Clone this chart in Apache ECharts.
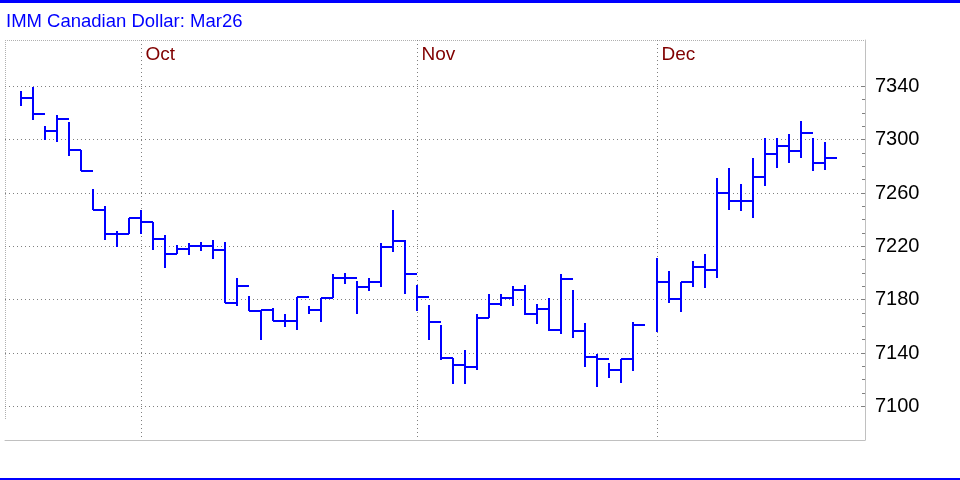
<!DOCTYPE html>
<html><head><meta charset="utf-8">
<script src="https://cdn.jsdelivr.net/npm/echarts@6/dist/echarts.min.js"></script>
<style>html,body{margin:0;padding:0;background:#fff}#c{width:960px;height:480px}</style>
</head><body><div id="c"></div>
<script>
const chartTitle = 'IMM Canadian Dollar: Mar26';
// one slot per trading day; null = no bar (holiday slot)
const highs = [7336.5,7339.5,7310,7318.5,7313.5,7292.5,7263,7250,7231.5,7241.5,
  7247.5,7238.5,7228.5,7221,7222.5,7223.5,7225,7223.5,7196.5,7183,
  7172.5,7174,7169.5,7182,7175,7181,7199.5,7200,7194,7196,
  7222.5,7247,7225,7191,7176,7161,7136.5,7142,7169,7184.5,
  7184.5,7190,7191,7177,7181.5,7199,7187,7162.5,7139.5,7132.5,
  7135.5,7163,null,7211,7201.5,7193.5,7209,7214.5,7271.5,7279,
  7267,7286.5,7301,7301,7304,7314,7301,7298];
const lows = [7325.5,7315,7299.5,7298.5,7288,7276.5,7247,7225,7219.5,7229,
  7229.5,7217,7204,7214,7213.5,7216.5,7210.5,7177.5,7175,7171.5,
  7150,7164,7159.5,7157.5,7169.5,7163,7181,7192,7169.5,7186.5,
  7189.5,7216,7184.5,7171.5,7149.5,7135,7117,7117,7127.5,7166.5,
  7175,7175,7168.5,7162,7156.5,7154,7151.5,7129.5,7114.5,7121,
  7117.5,7126.5,null,7156,7177.5,7171,7189.5,7189,7196,7247.5,
  7246.5,7241.5,7265.5,7279,7282.5,7286,7276.5,7277];
const closes = [7331.5,7319.5,7306.5,7315.5,7292.5,7276.5,7247.5,7229,7229.5,7241.5,
  7238.5,7225.5,7214.5,7218,7220,7220.5,7217,7177.5,7190,7171.5,
  7172.5,7164,7164,7182,7172.5,7181,7196.5,7196.5,7189.5,7193.5,
  7219.5,7224,7199.5,7182,7163.5,7136,7131,7129.5,7166.5,7176.5,
  7181.5,7187,7169.5,7173,7157,7195.5,7156.5,7137,7135.5,7127.5,
  7135.5,7161,null,7193.5,7180.5,7193.5,7204.5,7202,7260,7254,
  7254,7272,7289.5,7295.5,7291.5,7305,7282.5,7286.5];
const monthLabels = ['Oct','Nov','Dec'];
const monthStarts = [10,33,53];
const yTicks = [7100,7140,7180,7220,7260,7300,7340];
const yMinorTicks = [7100,7110,7120,7130,7140,7150,7160,7170,7180,7190,7200,7210,7220,
  7230,7240,7250,7260,7270,7280,7290,7300,7310,7320,7330,7340];

const bars = [];
for (let i = 0; i < highs.length; i++) {
  if (highs[i] != null) bars.push([i, highs[i], lows[i], closes[i]]);
}
const font = '"Liberation Sans", Arial, sans-serif';
const Y_MIN = 7074.75, Y_MAX = 7374.75;

const chart = echarts.init(document.getElementById('c'), null, {renderer: 'canvas'});
chart.setOption({
  animation: false,
  backgroundColor: '#ffffff',
  title: {text: chartTitle, left: 6, top: 12, padding: 0,
    textStyle: {color: '#0000ff', fontSize: 18.5, fontWeight: 'normal', fontFamily: font}},
  grid: {left: 5, right: 95, top: 40, bottom: 40},
  xAxis: {type: 'value', min: -4/3, max: 211/3,
    axisLine: {show: true, onZero: false, lineStyle: {color: '#c0c0c0', width: 1}},
    axisTick: {show: false}, axisLabel: {show: false}, splitLine: {show: false}},
  yAxis: [
    {type: 'value', position: 'right', min: Y_MIN, max: Y_MAX,
      axisLine: {show: true, onZero: false, lineStyle: {color: '#c0c0c0', width: 1}},
      axisTick: {show: false, customValues: yTicks},
      axisLabel: {customValues: yTicks, color: '#000000', fontSize: 20, fontFamily: font, margin: 10,
        formatter: function (v) { return String(v); }},
      splitLine: {show: true, lineStyle: {color: '#808080', width: 1, type: [1, 3]}}},
    {type: 'value', position: 'right', min: Y_MIN, max: Y_MAX,
      axisLine: {show: false, onZero: false},
      axisTick: {show: true, inside: true, length: 3, customValues: yMinorTicks,
        lineStyle: {color: '#808080', width: 1}},
      axisLabel: {show: false}, splitLine: {show: false}}
  ],
  series: [
    {type: 'custom', name: 'months', data: monthStarts.map(m => [m, Y_MAX]),
      encode: {x: 0, y: 1}, clip: false, z: 1,
      renderItem: function (params, api) {
        const p = api.coord([api.value(0), Y_MAX]);
        const x = Math.round(p[0]) + 0.5;
        const cs = params.coordSys;
        return {type: 'group', children: [
          {type: 'line', shape: {x1: x, y1: cs.y, x2: x, y2: cs.y + cs.height - 3},
            style: {stroke: '#808080', lineWidth: 1, lineDash: [1, 3]}},
          {type: 'text', x: x + 4, y: 45,
            style: {text: monthLabels[params.dataIndex], fill: '#800000',
              fontSize: 19, fontFamily: font, align: 'left', verticalAlign: 'top'}}
        ]};
      }},
    {type: 'custom', name: 'CAD', data: bars, encode: {x: 0, y: [1, 2, 3]}, clip: false, z: 3,
      renderItem: function (params, api) {
        const i = api.value(0);
        const h = api.coord([i, api.value(1)]);
        const l = api.coord([i, api.value(2)]);
        const c = api.coord([i, api.value(3)]);
        const n = api.coord([i + 1, api.value(3)]);
        const x = Math.round(h[0]);
        const cy = Math.round(c[1]);
        const st = {stroke: '#0000ff', lineWidth: 2};
        return {type: 'group', children: [
          {type: 'line', shape: {x1: x, y1: Math.round(h[1]), x2: x, y2: Math.round(l[1])}, style: st},
          {type: 'line', shape: {x1: x, y1: cy, x2: Math.round(n[0]), y2: cy}, style: st}
        ]};
      }}
  ],
  graphic: [
    {type: 'rect', shape: {x: 0, y: 0, width: 960, height: 3}, style: {fill: '#0000ff'}},
    {type: 'rect', shape: {x: 0, y: 478, width: 960, height: 2}, style: {fill: '#0000ff'}},
    {type: 'line', shape: {x1: 5, y1: 40.5, x2: 865, y2: 40.5}, style: {stroke: '#b0b0b0', lineWidth: 1, lineDash: [1, 1]}},
    {type: 'line', shape: {x1: 5.5, y1: 40, x2: 5.5, y2: 420}, style: {stroke: '#b0b0b0', lineWidth: 1, lineDash: [1, 1]}}
  ]
});
</script></body></html>
